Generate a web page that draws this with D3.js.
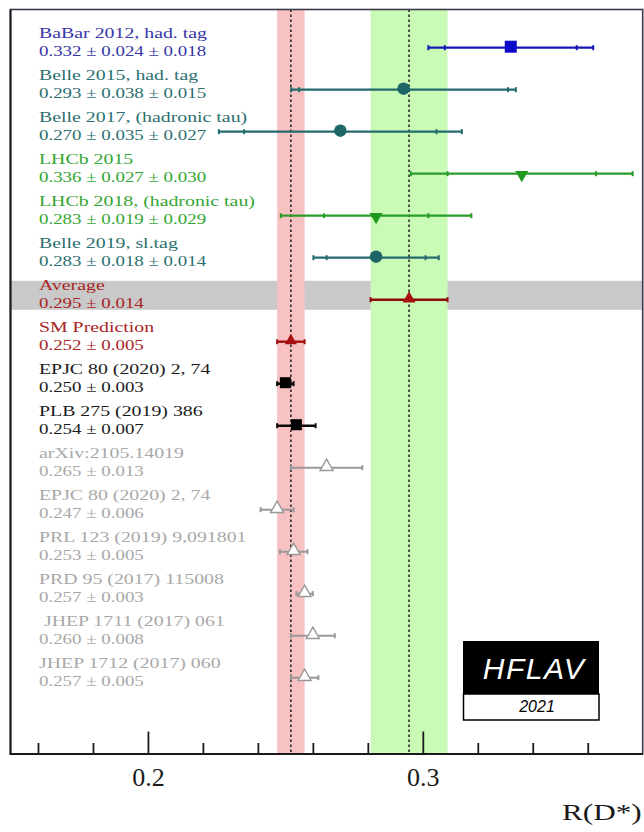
<!DOCTYPE html>
<html>
<head>
<meta charset="utf-8">
<script src="https://cdn.jsdelivr.net/npm/d3@7"></script>
<style>
  html, body { margin: 0; padding: 0; background: #fff; }
  svg { display: block; }
  text { white-space: pre; }
</style>
</head>
<body>
<svg id="chart" width="644" height="832"></svg>
<script>
// R(D*) measurements, world average and predictions
const categories = [
  "BaBar 2012, had. tag",
  "Belle 2015, had. tag",
  "Belle 2017, (hadronic tau)",
  "LHCb 2015",
  "LHCb 2018, (hadronic tau)",
  "Belle 2019, sl.tag",
  "Average",
  "SM Prediction",
  "EPJC 80 (2020) 2, 74",
  "PLB 275 (2019) 386",
  "arXiv:2105.14019",
  "EPJC 80 (2020) 2, 74",
  "PRL 123 (2019) 9,091801",
  "PRD 95 (2017) 115008",
  " JHEP 1711 (2017) 061",
  "JHEP 1712 (2017) 060"
];
const values  = [0.332, 0.293, 0.270, 0.336, 0.283, 0.283, 0.295, 0.252, 0.250, 0.254, 0.265, 0.247, 0.253, 0.257, 0.260, 0.257];
const statErr = [0.024, 0.038, 0.035, 0.027, 0.019, 0.018, 0.014, 0.005, 0.003, 0.007, 0.013, 0.006, 0.005, 0.003, 0.008, 0.005];
const systErr = [0.018, 0.015, 0.027, 0.030, 0.029, 0.014, null, null, null, null, null, null, null, null, null, null];
const groups  = ["BaBar", "Belle", "Belle", "LHCb", "LHCb", "Belle", "Average", "SM",
                 "Theory", "Theory", "Other", "Other", "Other", "Other", "Other", "Other"];
const majorTicks = [0.2, 0.3];
const minorTicks = [0.16, 0.18, 0.22, 0.24, 0.26, 0.28, 0.32, 0.34, 0.36];
const axisTitle = "R(D*)";
const logoTitle = "HFLAV";
const logoYear = "2021";
const AVG = categories.indexOf("Average");
const SM = categories.indexOf("SM Prediction");

const styles = {
  BaBar:   { text: "#3434a6", line: "#1717b4", marker: "#0a0ac8", shape: "square",  size: 12, lw: 2.2 },
  Belle:   { text: "#2b6f70", line: "#236a6c", marker: "#1d6567", shape: "circle",  size: 12.5, lw: 2.2 },
  LHCb:    { text: "#33a533", line: "#2a9c2a", marker: "#1f9a1f", shape: "triDown", size: 13, lw: 2.2 },
  Average: { text: "#a82424", line: "#8e0a0a", marker: "#a80f0f", shape: "triUp",   size: 13, lw: 2.4 },
  SM:      { text: "#a82424", line: "#a30f0f", marker: "#a80f0f", shape: "triUp",   size: 12, lw: 2.4 },
  Theory:  { text: "#1a1a1a", line: "#0a0a0a", marker: "#000000", shape: "square",  size: 11, lw: 2.6 },
  Other:   { text: "#a8a8a8", line: "#999999", marker: "#999999", shape: "openTri", size: 13, lw: 2.0 }
};

const svg = d3.select("#chart");
const plotLeft = 10.5, plotRight = 642.7, plotTop = 9.5, plotBottom = 754;

const x = d3.scaleLinear().domain([0.15, 0.38]).range([plotLeft, plotRight]);
const y = d3.scaleLinear().domain([0, categories.length - 1]).range([47.7, 677.7]);

// Grey band behind the average row
svg.append("rect")
  .attr("x", plotLeft).attr("width", plotRight - plotLeft)
  .attr("y", y(AVG - 0.45)).attr("height", y(AVG + 0.24) - y(AVG - 0.45))
  .attr("fill", "#c9c9c9");

// SM and average bands
function band(v, e, color) {
  svg.append("rect")
    .attr("x", x(v - e)).attr("width", x(v + e) - x(v - e))
    .attr("y", plotTop).attr("height", plotBottom - plotTop)
    .attr("fill", color);
}
band(values[SM], statErr[SM], "#f9c2c2");
band(values[AVG], statErr[AVG], "#c9fbb6");

// central value lines
[values[SM], values[AVG]].forEach(v => {
  svg.append("line")
    .attr("x1", x(v)).attr("x2", x(v))
    .attr("y1", plotTop).attr("y2", plotBottom)
    .attr("stroke", "#2a2a2a").attr("stroke-width", 1.6)
    .attr("stroke-dasharray", "2.5,2.5");
});

// Labels: name on the first line, value with errors on the second
const labelX = 39;
const fmt = d3.format(".3f");
categories.forEach((name, i) => {
  const st = styles[groups[i]];
  const g = svg.append("g").attr("fill", st.text)
    .attr("font-family", "'Liberation Serif', 'Times New Roman', serif")
    .attr("font-size", 15.5);
  const valText = fmt(values[i]) + " \u00b1 " + fmt(statErr[i]) + (systErr[i] != null ? " \u00b1 " + fmt(systErr[i]) : "");
  g.append("text")
    .attr("transform", `translate(${labelX},${y(i) - 9.8}) scale(1.28,1)`)
    .text(name);
  g.append("text")
    .attr("transform", `translate(${labelX},${y(i) + 8.2}) scale(1.22,1)`)
    .text(valText);
});

// Error bars and markers
categories.forEach((name, i) => {
  const st = styles[groups[i]];
  const v = values[i];
  const tot = systErr[i] != null ? Math.sqrt(statErr[i] ** 2 + systErr[i] ** 2) : statErr[i];
  const yy = y(i);
  const g = svg.append("g");
  g.append("line")
    .attr("x1", x(v - tot)).attr("x2", x(v + tot))
    .attr("y1", yy).attr("y2", yy)
    .attr("stroke", st.line).attr("stroke-width", st.lw);
  const caps = [v - tot, v + tot];
  if (systErr[i] != null) caps.push(v - statErr[i], v + statErr[i]);
  caps.forEach(c => {
    g.append("line")
      .attr("x1", x(c)).attr("x2", x(c))
      .attr("y1", yy - 2.5).attr("y2", yy + 2.5)
      .attr("stroke", st.line).attr("stroke-width", 2);
  });

  let sym, rot = 0, fill = st.marker, stroke = "none";
  const s = st.size;
  if (st.shape === "square") sym = d3.symbol(d3.symbolSquare, s * s);
  else if (st.shape === "circle") sym = d3.symbol(d3.symbolCircle, Math.PI * (s / 2) ** 2);
  else {
    sym = d3.symbol(d3.symbolTriangle, Math.sqrt(3) / 4 * s * s);
    if (st.shape === "triDown") rot = 180;
    if (st.shape === "openTri") { fill = "#ffffff"; stroke = st.marker; }
  }
  g.append("path")
    .attr("d", sym())
    .attr("transform", `translate(${x(v)},${yy - (rot ? -1 : 1)}) rotate(${rot})`)
    .attr("fill", fill)
    .attr("stroke", stroke).attr("stroke-width", 1.4);
});

// Frame
svg.append("rect")
  .attr("x", plotLeft).attr("y", plotTop)
  .attr("width", plotRight - plotLeft).attr("height", plotBottom - plotTop)
  .attr("fill", "none").attr("stroke", "#3a3a4a").attr("stroke-width", 1.6);
svg.append("path")
  .attr("d", `M${plotLeft},${plotTop}V${plotBottom}H${plotRight}`)
  .attr("fill", "none").attr("stroke", "#1a1a1a").attr("stroke-width", 2);

// Axis ticks
const axisG = svg.append("g").attr("transform", `translate(0,${plotBottom})`);
axisG.append("g")
  .call(d3.axisBottom(x).tickValues(minorTicks).tickSize(-11).tickFormat(""))
  .call(g => g.select(".domain").remove())
  .call(g => g.selectAll("line").attr("stroke", "#1a1a1a").attr("stroke-width", 1.8));
axisG.append("g")
  .call(d3.axisBottom(x).tickValues(majorTicks).tickSize(-22.5).tickPadding(14).tickFormat(d3.format(".1f")))
  .call(g => g.select(".domain").remove())
  .call(g => g.selectAll("line").attr("stroke", "#1a1a1a").attr("stroke-width", 1.8))
  .call(g => g.selectAll("text")
    .attr("fill", "#1a1a1a")
    .attr("font-family", "'Liberation Serif', 'Times New Roman', serif")
    .attr("font-size", 26));

// Axis title
svg.append("text")
  .attr("transform", `translate(${plotRight - 1},820) scale(1.3,1)`)
  .attr("text-anchor", "end")
  .attr("font-family", "'Liberation Serif', 'Times New Roman', serif")
  .attr("font-size", 24)
  .attr("fill", "#1a1a1a")
  .text(axisTitle);

// HFLAV logo
const logo = svg.append("g");
logo.append("rect").attr("x", 463).attr("y", 641).attr("width", 136).attr("height", 53).attr("fill", "#000");
logo.append("rect").attr("x", 463.5).attr("y", 694).attr("width", 135.5).attr("height", 26)
  .attr("fill", "#fff").attr("stroke", "#000").attr("stroke-width", 1.5);
logo.append("text")
  .attr("x", 534).attr("y", 679)
  .attr("text-anchor", "middle")
  .attr("font-family", "'Liberation Sans', Arial, sans-serif")
  .attr("font-style", "italic").attr("font-size", 30)
  .attr("letter-spacing", 1.5)
  .attr("fill", "#fff")
  .text(logoTitle);
logo.append("text")
  .attr("x", 537).attr("y", 712)
  .attr("text-anchor", "middle")
  .attr("font-family", "'Liberation Sans', Arial, sans-serif")
  .attr("font-style", "italic").attr("font-size", 16)
  .attr("fill", "#000")
  .text(logoYear);
</script>
</body>
</html>
